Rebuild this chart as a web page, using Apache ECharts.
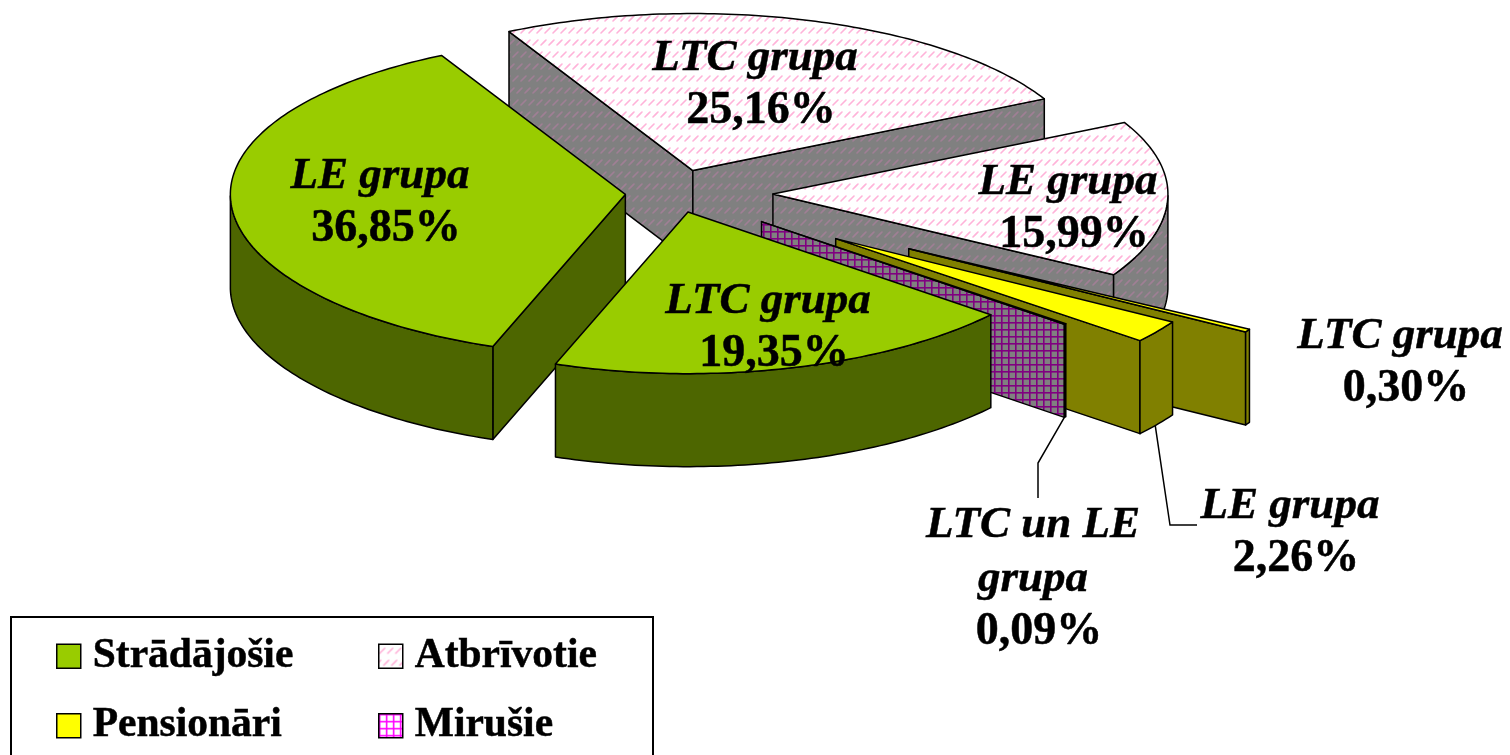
<!DOCTYPE html>
<html>
<head>
<meta charset="utf-8">
<script src="https://cdn.jsdelivr.net/npm/echarts@6/dist/echarts.min.js"></script>
<style>
  html, body { margin: 0; padding: 0; background: #fff; }
  #chart { width: 1510px; height: 755px; }
</style>
</head>
<body>
<div id="chart"></div>
<script>
// slices in the order they go round the pie, clockwise from the lower left
const sliceNames = ['LE grupa', 'LTC grupa', 'LE grupa', 'LTC grupa', 'LE grupa', 'LTC un LE\ngrupa', 'LTC grupa'];
const sliceGroups = ['Strādājošie', 'Atbrīvotie', 'Atbrīvotie', 'Pensionāri', 'Pensionāri', 'Mirušie', 'Strādājošie'];
const sliceValues = [36.85, 25.16, 15.99, 0.30, 2.26, 0.09, 19.35];

// back to front
const drawGroups = ['Atbrīvotie', 'Pensionāri', 'Mirušie', 'Strādājošie'];

// pie geometry
const pieCenter = [675, 193];
const pieRx = 395;
const pieRy = 157;
const pieDepth = 93;
const pieLean = 0.03; // front of the pie reaches a bit further than the back
const firstAngle = 109.6;
const slicePull = [0.126, 0.15, 0.248, 0.69, 0.5, 0.285, 0.125];
const labelSpots = [[380, 176], [755, 58], [1068, 182], [1400, 336], [1290, 506], [1033, 525], [768, 301]];
const font = '"Liberation Serif", "Times New Roman", serif';

function tile(w, h, paint) {
  const c = document.createElement('canvas');
  c.width = w;
  c.height = h;
  paint(c.getContext('2d'));
  return { image: c, repeat: 'repeat' };
}
function hatch(bg, ink) {
  return tile(8, 24, function (g) {
    g.fillStyle = bg;
    g.fillRect(0, 0, 8, 24);
    g.strokeStyle = ink;
    g.lineWidth = 1.6;
    g.lineCap = 'round';
    [[1, 9], [5, 21], [-3, 21]].forEach(function (p) {
      g.beginPath();
      g.moveTo(p[0], p[1]);
      g.lineTo(p[0] + 5, p[1] - 5);
      g.stroke();
    });
  });
}
function grid(bg, ink) {
  return tile(7, 7, function (g) {
    g.fillStyle = bg;
    g.fillRect(0, 0, 7, 7);
    g.fillStyle = ink;
    g.fillRect(0, 0, 7, 1.6);
    g.fillRect(0, 0, 1.6, 7);
  });
}

const topFill = {
  'Strādājošie': '#99cc00',
  'Atbrīvotie': hatch('#ffffff', '#ffb3d9'),
  'Pensionāri': '#ffff00',
  'Mirušie': grid('#ffffff', '#ff00ff')
};
const sideFill = {
  'Strādājošie': '#4d6600',
  'Atbrīvotie': hatch('#808080', '#a07f95'),
  'Pensionāri': '#808000',
  'Mirušie': grid('#808080', '#800080')
};

// start and end angle of each slice
const sliceAngles = [];
sliceValues.reduce(function (from, v) {
  const to = from + v / 100 * 360;
  sliceAngles.push([from, to]);
  return to;
}, firstAngle);

function onRim(origin, deg) {
  const r = deg * Math.PI / 180;
  const s = Math.sin(r);
  return [origin[0] + pieRx * Math.cos(r), origin[1] + pieRy * s * (1 + pieLean * Math.max(s, 0))];
}
function down(p) {
  return [p[0], p[1] + pieDepth];
}
function poly(points, fill) {
  return {
    type: 'polygon',
    shape: { points: points },
    style: { fill: fill, stroke: '#000', lineWidth: 1.5, lineJoin: 'round' }
  };
}
function wall(points, fill) {
  return poly(points.concat(points.map(down).reverse()), fill);
}
function word(text, x, y, italic) {
  return {
    type: 'text',
    z2: 100,
    style: {
      text: text, x: x, y: y, align: 'center', verticalAlign: 'middle',
      font: (italic ? 'italic bold 45px ' : 'bold 46px ') + font,
      fill: '#000', stroke: '#000', lineWidth: 0.5
    }
  };
}

function renderSlice(params, api) {
  const i = api.value(0);
  const group = sliceGroups[i];
  const from = sliceAngles[i][0];
  const to = sliceAngles[i][1];
  const mid = (from + to) / 2 * Math.PI / 180;
  const pull = slicePull[i];
  const apex = [
    pieCenter[0] + pull * pieRx * Math.cos(mid),
    pieCenter[1] + pull * pieRy * Math.sin(mid)
  ];

  const steps = Math.max(2, Math.ceil(to - from));
  const rim = [];
  for (let s = 0; s <= steps; s++) {
    rim.push(from + (to - from) * s / steps);
  }
  const rimPts = rim.map(function (d) { return onRim(apex, d); });

  const children = [];
  // straight walls show only when the edge runs leftwards on screen
  const first = rimPts[0];
  const last = rimPts[rimPts.length - 1];
  if (first[0] < apex[0]) children.push(wall([apex, first], sideFill[group]));
  if (apex[0] < last[0]) children.push(wall([last, apex], sideFill[group]));
  // curved wall, front half only
  const front = rimPts.filter(function (p, k) {
    return Math.sin(rim[k] * Math.PI / 180) >= -0.001;
  });
  if (front.length > 1) children.push(wall(front, sideFill[group]));
  children.push(poly([apex].concat(rimPts), topFill[group]));

  // labels
  const spot = labelSpots[i];
  const lines = sliceNames[i].split('\n');
  lines.forEach(function (t, k) {
    children.push(word(t, spot[0], spot[1] + k * 54, true));
  });
  children.push(word(sliceValues[i].toFixed(2).replace('.', ',') + '%', spot[0] + 6, spot[1] + lines.length * 54 - 1, false));

  // leader lines of the two outer labels
  if (i === 4 || i === 5) {
    const tail = down(i === 4 ? onRim(apex, 36) : last);
    const path = i === 4
      ? [tail, [1170, 525], [1197, 525]]
      : [tail, [1038, 463], [1038, 498]];
    children.push({
      type: 'polyline',
      shape: { points: path },
      style: { fill: 'none', stroke: '#000', lineWidth: 1.5 }
    });
  }
  return { type: 'group', children: children };
}

const chart = echarts.init(document.getElementById('chart'), null, { renderer: 'canvas' });

const legendText = {
  fontFamily: font, fontWeight: 'bold', fontSize: 41.5, color: '#000',
  textBorderColor: '#000', textBorderWidth: 0.5, padding: [6, 0, 0, 7]
};
function legendEntry(name) {
  return { name: name, icon: 'rect', itemStyle: { color: topFill[name], borderColor: '#000', borderWidth: 1.5 } };
}

chart.setOption({
  animation: false,
  backgroundColor: '#fff',
  legend: [
    {
      orient: 'vertical', left: 56, top: 635, padding: 0, itemWidth: 24, itemHeight: 24, itemGap: 27,
      selectedMode: false, textStyle: legendText,
      data: [legendEntry('Strādājošie'), legendEntry('Pensionāri')]
    },
    {
      orient: 'vertical', left: 378, top: 635, padding: 0, itemWidth: 24, itemHeight: 24, itemGap: 27,
      selectedMode: false, textStyle: legendText,
      data: [legendEntry('Atbrīvotie'), legendEntry('Mirušie')]
    }
  ],
  graphic: [{
    type: 'rect', silent: true, z: 0,
    shape: { x: 11, y: 617, width: 642, height: 150 },
    style: { fill: '#fff', stroke: '#000', lineWidth: 2 }
  }],
  series: drawGroups.map(function (g) {
    const data = [];
    sliceGroups.forEach(function (name, i) {
      if (name === g) data.push([i]);
    });
    return {
      type: 'custom',
      name: g,
      coordinateSystem: 'none',
      silent: true,
      itemStyle: { color: topFill[g] },
      encode: { value: 0 },
      renderItem: renderSlice,
      data: data
    };
  })
});
</script>
</body>
</html>
